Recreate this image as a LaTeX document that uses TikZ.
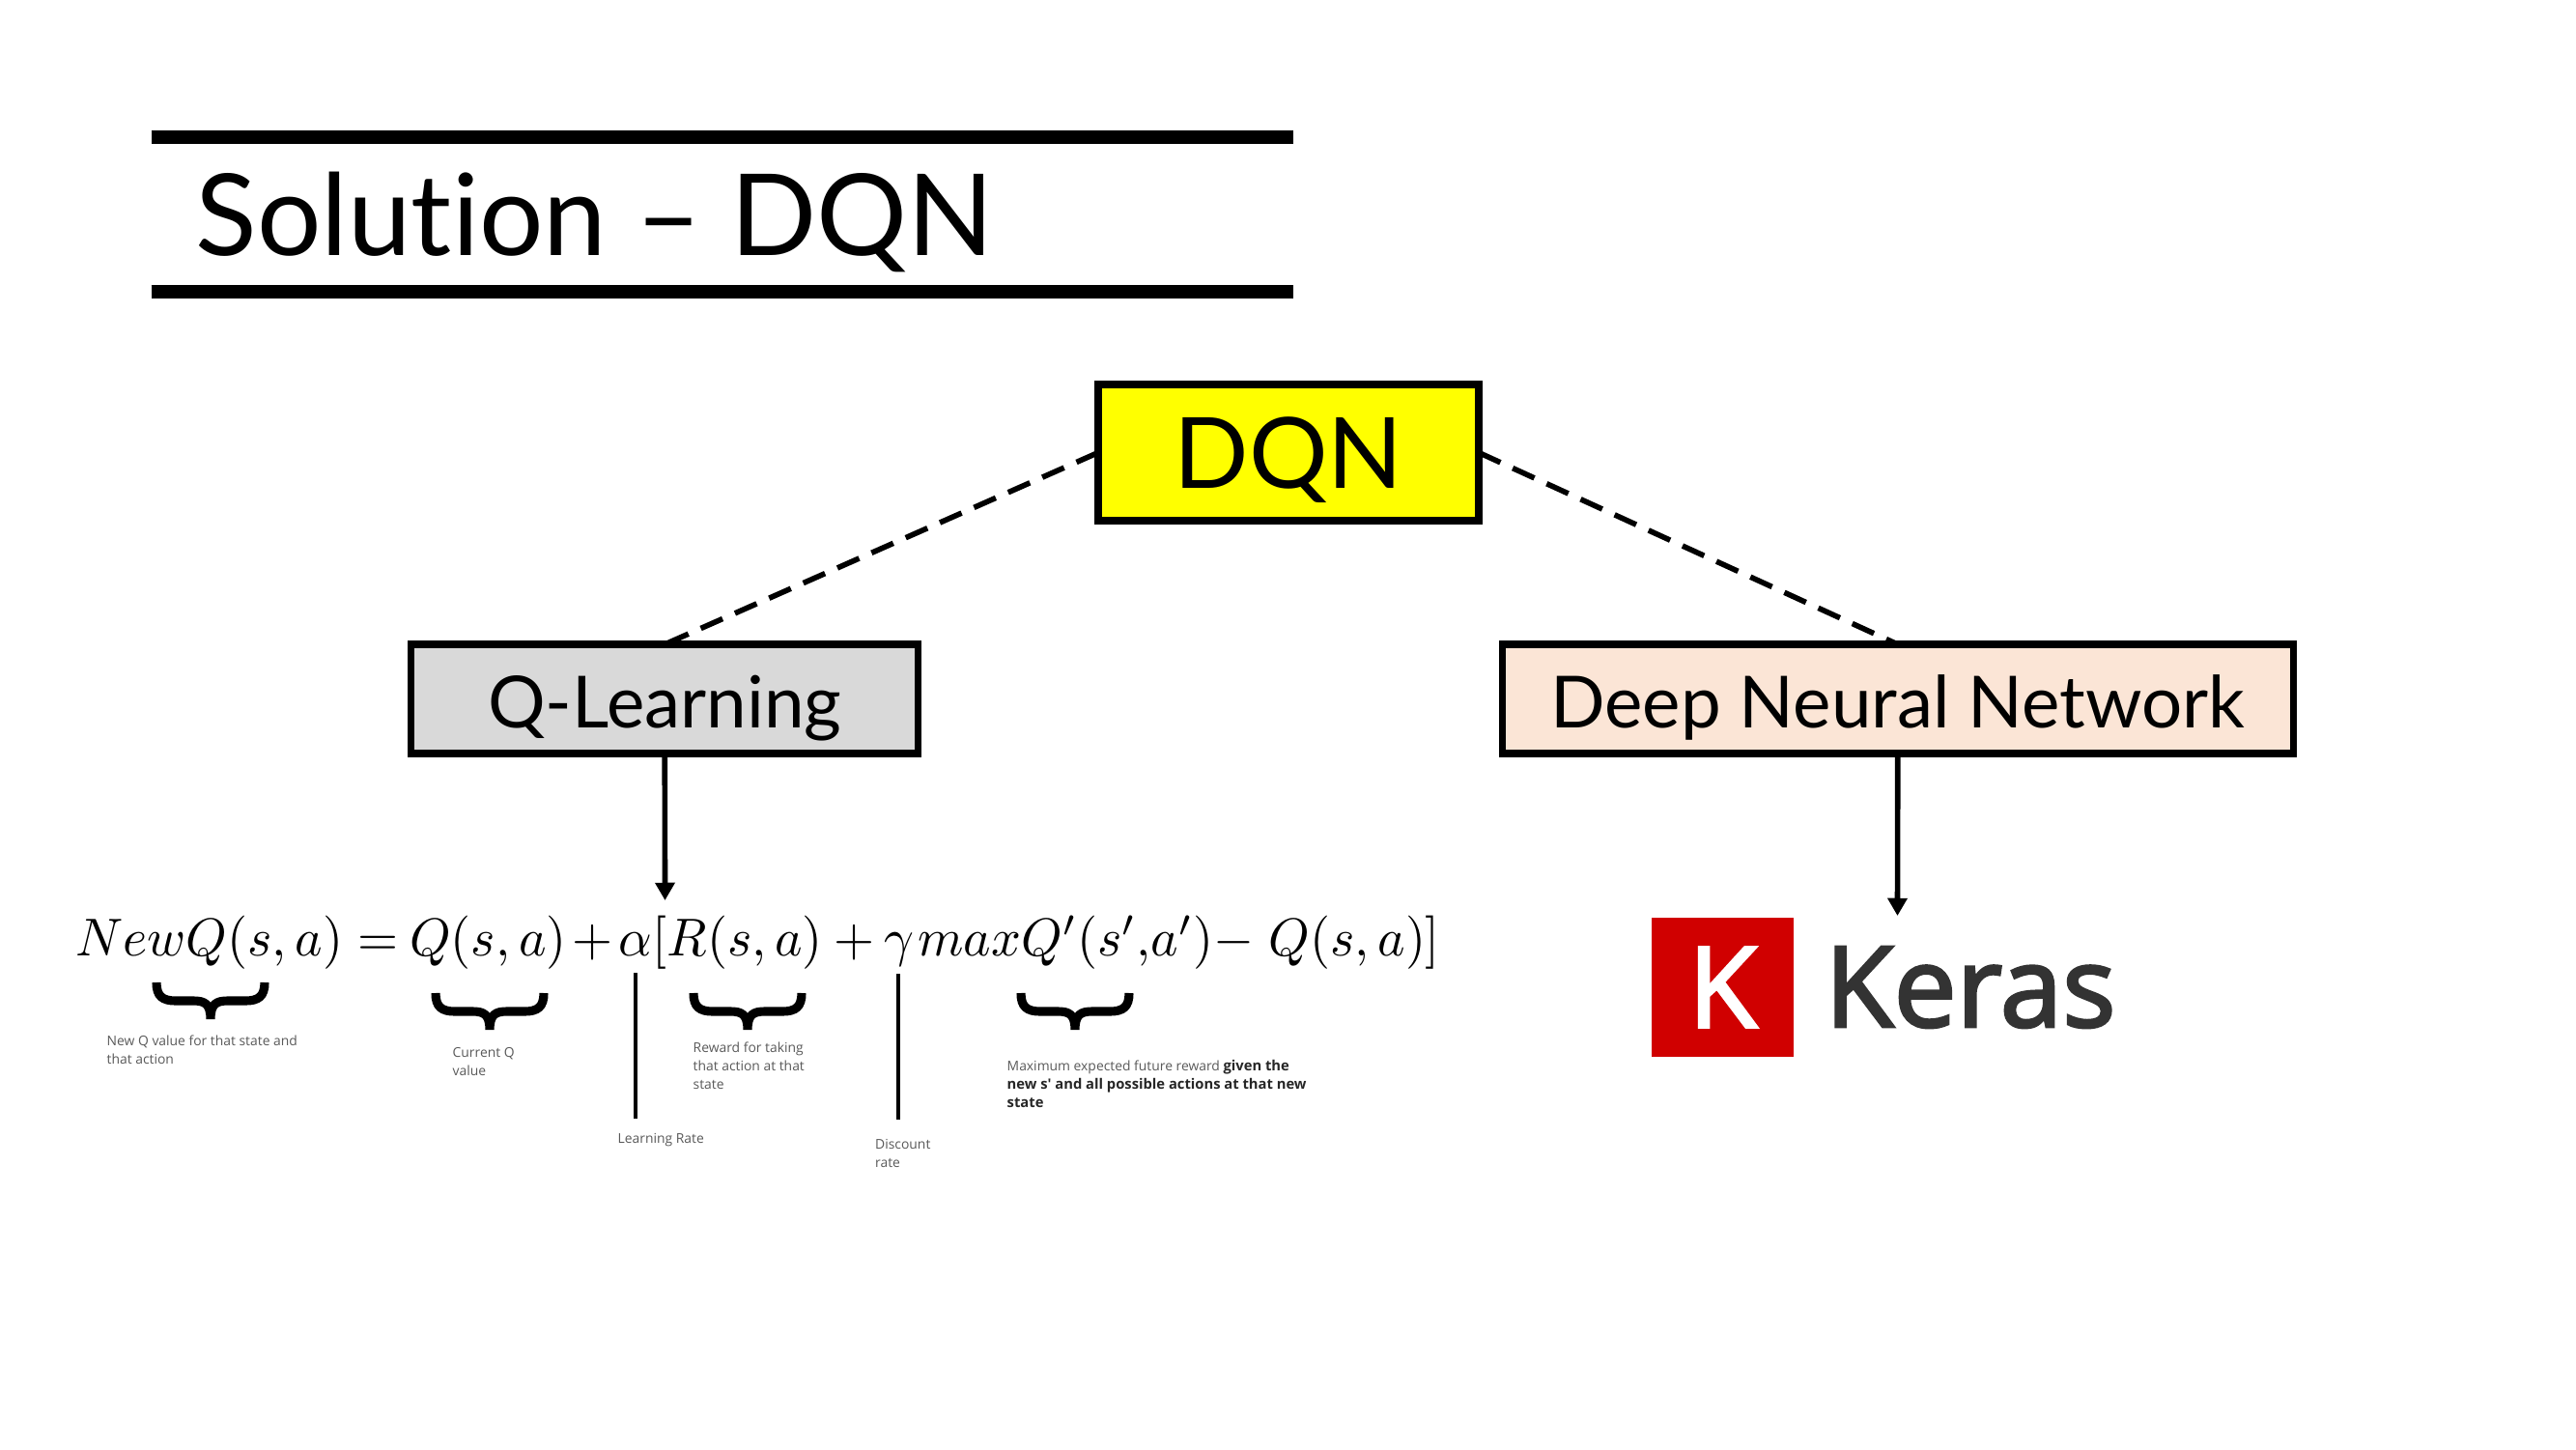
\documentclass[tikz,border=0pt]{standalone}
\usepackage[no-math]{fontspec}
\setmainfont{Lato}[Ligatures={TeX,NoCommon}]
\newfontfamily\opensans{Open Sans}
\newfontfamily\kerasfont{Open Sans}[FakeBold=2.5]
\usetikzlibrary{positioning, arrows.meta}
\definecolor{kerasred}{HTML}{D00000}
\definecolor{peach}{HTML}{FBE5D6}
\definecolor{boxyellow}{HTML}{FFFF00}
\tikzstyle{FlowBox} = [draw, line width=2.1pt, inner sep=0pt, outer sep=0pt, text=black, text depth=0pt]
\tikzstyle{SubBox} = [FlowBox, minimum height=1.13cm, text height=17.3pt, font=\fontsize{21.2}{26}\selectfont]
\tikzstyle{Note} = [anchor=north west, inner sep=0pt, align=left, text=black!65, font=\opensans\fontsize{3.95}{5.4}\selectfont]
\tikzstyle{TitleRule} = [line width=3.9pt]
\tikzstyle{Tick} = [line width=1.15pt]
\tikzstyle{Curly} = [line width=2.6pt]
\newcommand{\boldnote}[1]{{\fontsize{4.2}{5.4}\selectfont\bfseries\color{black!85}#1}}

\begin{document}
\begin{tikzpicture}[link/.style={line width=1.6pt, -{Triangle[width=5.6pt, length=5.2pt]}},
    dashlink/.style={line width=1.6pt, dash pattern=on 7pt off 4pt}]
    \useasboundingbox (0,0) rectangle (26.67,-15);

    \draw[TitleRule] (1.565,-1.42) -- (13.39,-1.42);
    \draw[TitleRule] (1.565,-3.02) -- (13.39,-3.02);
    \node[anchor=base west, inner sep=0pt, font=\fontsize{33.4}{40}\selectfont] (title) at (2.02,-2.64) {Solution -- DQN};

    \node[FlowBox, fill=boxyellow, minimum width=3.94cm, minimum height=1.41cm, font=\fontsize{29}{34}\selectfont] (dqn) at (13.34,-4.685) {DQN};
    \node[SubBox, fill=black!15, minimum width=5.25cm] (qlearn) [below left = 1.28cm and 1.8625cm of dqn] {Q-Learning};
    \node[SubBox, fill=peach, minimum width=8.19cm] (dnn) [below right = 1.28cm and 0.2425cm of dqn] {Deep Neural Network};

    \draw[dashlink] (dqn.west) -- (qlearn.north);
    \draw[dashlink] (dqn.east) -- (dnn.north);

    \node[anchor=base west, inner sep=0pt, xscale=1.537, yscale=1.57] (eqn) at (0.77,-9.89) {$NewQ(s,a)=\mskip-1mu Q(s,a)\mskip2mu{+}\mskip2mu\alpha[R(s,a)+\mskip-1mu\gamma\,\mskip-1.5mu max\,\mskip-3mu Q'(s',\mskip-3mu a'){-}\mskip5mu Q(s,a)]$};
    \coordinate (eqntip) at (6.885,-9.32);
    \draw[link] (qlearn.south) -- (eqntip);

    \foreach \cx/\cy in {1.56/-10.17, 4.45/-10.28, 7.12/-10.28, 10.51/-10.28}
      \draw[Curly, shift={(\cx,\cy)}] (0.06,0) .. controls (0.06,-0.14) and (0.12,-0.19) .. (0.26,-0.19) -- (0.44,-0.19) .. controls (0.56,-0.19) and (0.62,-0.22) .. (0.62,-0.38) .. controls (0.62,-0.22) and (0.68,-0.19) .. (0.80,-0.19) -- (0.98,-0.19) .. controls (1.12,-0.19) and (1.18,-0.14) .. (1.18,0);

    \draw[Tick] (6.58,-10.07) -- (6.58,-11.58);
    \draw[Tick] (9.30,-10.08) -- (9.30,-11.59);

    \node[Note] (newq) at (1.10,-10.71) {New Q value for that state and\\that action};
    \node[Note] (curq) at (4.68,-10.84) {Current Q\\value};
    \node[Note] (reward) at (7.17,-10.78) {Reward for taking\\that action at that\\state};
    \node[Note] (lrate) at (6.39,-11.73) {Learning Rate};
    \node[Note] (drate) at (9.055,-11.79) {Discount\\rate};
    \node[Note] (maxq) at (10.42,-10.97) {Maximum expected future reward \boldnote{given the}\\\boldnote{new s' and all possible actions at that new}\\\boldnote{state}};

    \node[fill=kerasred, inner sep=0pt, minimum width=1.47cm, minimum height=1.44cm, text=white, font=\kerasfont\fontsize{33}{36}\selectfont] (kerasbox) at (17.835,-10.22) {K};
    \node[inner sep=0pt, text=black!80, font=\kerasfont\fontsize{33}{36}\selectfont] (keras) [right = 0.31cm of kerasbox] {Keras};
    \coordinate (kerastip) at (19.645,-9.48);
    \draw[link] (dnn.south) -- (kerastip);
\end{tikzpicture}
\end{document}
